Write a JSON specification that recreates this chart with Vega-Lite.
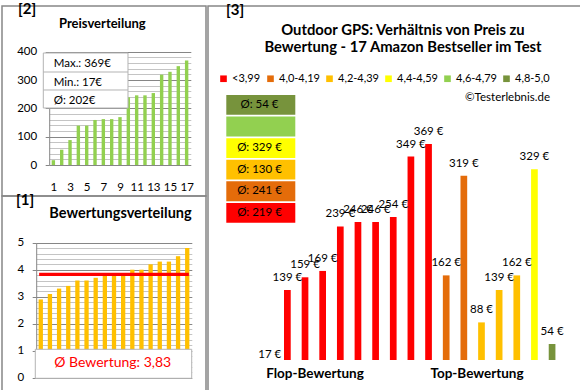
{
  "$schema": "https://vega.github.io/schema/vega-lite/v6.json",
  "padding": {"left": 1, "top": 1, "right": 1, "bottom": 1},
  "background": "white",
  "config": {
    "font": "Lato",
    "view": {"stroke": "#878787", "strokeWidth": 1.5},
    "locale": {"number": {"decimal": ",", "thousands": ".", "grouping": [3], "currency": ["", " €"]}}
  },
  "datasets": {
    "produkte": [
      {"n": 1, "preis": 17, "bewertung": 2.9, "gruppe": "<3,99"},
      {"n": 2, "preis": 139, "bewertung": 3.1, "gruppe": "<3,99"},
      {"n": 3, "preis": 159, "bewertung": 3.3, "gruppe": "<3,99"},
      {"n": 4, "preis": 169, "bewertung": 3.4, "gruppe": "<3,99"},
      {"n": 5, "preis": 239, "bewertung": 3.6, "gruppe": "<3,99"},
      {"n": 6, "preis": 246, "bewertung": 3.6, "gruppe": "<3,99"},
      {"n": 7, "preis": 246, "bewertung": 3.7, "gruppe": "<3,99"},
      {"n": 8, "preis": 254, "bewertung": 3.8, "gruppe": "<3,99"},
      {"n": 9, "preis": 349, "bewertung": 3.8, "gruppe": "<3,99"},
      {"n": 10, "preis": 369, "bewertung": 3.8, "gruppe": "<3,99"},
      {"n": 11, "preis": 162, "bewertung": 4.0, "gruppe": "4,0-4,19"},
      {"n": 12, "preis": 319, "bewertung": 4.0, "gruppe": "4,0-4,19"},
      {"n": 13, "preis": 88, "bewertung": 4.2, "gruppe": "4,2-4,39"},
      {"n": 14, "preis": 139, "bewertung": 4.3, "gruppe": "4,2-4,39"},
      {"n": 15, "preis": 162, "bewertung": 4.3, "gruppe": "4,2-4,39"},
      {"n": 16, "preis": 329, "bewertung": 4.5, "gruppe": "4,4-4,59"},
      {"n": 17, "preis": 54, "bewertung": 4.8, "gruppe": "4,8-5,0"}
    ],
    "preisverteilung": [
      {"n": 1, "preis": 17}, {"n": 2, "preis": 54}, {"n": 3, "preis": 88},
      {"n": 4, "preis": 139}, {"n": 5, "preis": 139}, {"n": 6, "preis": 159},
      {"n": 7, "preis": 162}, {"n": 8, "preis": 162}, {"n": 9, "preis": 169},
      {"n": 10, "preis": 239}, {"n": 11, "preis": 246}, {"n": 12, "preis": 246},
      {"n": 13, "preis": 254}, {"n": 14, "preis": 319}, {"n": 15, "preis": 329},
      {"n": 16, "preis": 349}, {"n": 17, "preis": 369}
    ],
    "mittelwerte": [
      {"gruppe": "4,8-5,0", "text": "Ø: 54 €"},
      {"gruppe": "4,6-4,79", "text": ""},
      {"gruppe": "4,4-4,59", "text": "Ø: 329 €"},
      {"gruppe": "4,2-4,39", "text": "Ø: 130 €"},
      {"gruppe": "4,0-4,19", "text": "Ø: 241 €"},
      {"gruppe": "<3,99", "text": "Ø: 219 €"}
    ]
  },
  "spacing": 0,
  "hconcat": [
    {
      "spacing": 0,
      "bounds": "flush",
      "vconcat": [
        {
          "width": 204,
          "height": 190,
          "title": {"text": "[2]", "anchor": "start", "frame": "group", "dx": 16, "offset": -23, "baseline": "alphabetic", "fontSize": 15, "fontWeight": "bold", "color": "#000000"},
          "resolve": {"axis": {"x": "independent", "y": "independent"}},
          "layer": [
            {
              "data": {"name": "preisverteilung"},
              "mark": {"type": "bar", "orient": "vertical", "width": 3.4, "color": "#92D050"},
              "encoding": {
                "x": {"field": "n", "type": "quantitative",
                  "scale": {"domain": [0.5, 17.5], "range": [47.2, 188.8], "nice": false, "zero": false, "padding": 0},
                  "axis": {"values": [1, 3, 5, 7, 9, 11, 13, 15, 17], "format": "d", "orient": "bottom", "offset": -31, "domain": false, "ticks": false, "tickSize": 0, "grid": false, "labelPadding": 16, "labelFontSize": 11.5, "labelColor": "#000000", "labelFlush": false, "labelOverlap": false, "title": null}},
                "y": {"field": "preis", "type": "quantitative",
                  "scale": {"domain": [0, 400], "range": [159, 45.7], "nice": false, "zero": false},
                  "axis": {"values": [0, 20, 40, 60, 80, 100, 120, 140, 160, 180, 200, 220, 240, 260, 280, 300, 320, 340, 360, 380, 400],
                    "orient": "left", "offset": -47.2, "title": null, "grid": true, "domainColor": "#868686", "tickSize": 4,
                    "tickColor": {"condition": {"test": "datum.value % 100 === 0", "value": "#868686"}, "value": "transparent"},
                    "gridColor": {"condition": {"test": "datum.value % 100 === 0", "value": "#868686"}, "value": "#c4c4c4"},
                    "labelExpr": "datum.value % 100 === 0 ? datum.label : ''",
                    "labelOverlap": false, "labelPadding": 8.5, "labelFontSize": 11.5, "labelColor": "#000000"}}
              }
            },
            {
              "data": {"values": [{}]},
              "mark": {"type": "text", "fontSize": 13, "fontWeight": "bold", "align": "left", "baseline": "alphabetic", "color": "#000000"},
              "encoding": {
                "x": {"datum": 1.676, "type": "quantitative", "scale": {"domain": [0.5, 17.5], "range": [47.2, 188.8], "nice": false, "zero": false, "padding": 0}, "axis": null},
                "y": {"datum": 485, "type": "quantitative", "scale": {"domain": [0, 400], "range": [159, 45.7], "nice": false, "zero": false}, "axis": null},
                "text": {"value": "Preisverteilung"}
              }
            },
            {
              "data": {"values": [{}]},
              "mark": {"type": "rect", "fill": "#ffffff", "stroke": "#b3b3b3", "strokeWidth": 1},
              "encoding": {
                "x": {"datum": -0.208, "type": "quantitative", "scale": {"domain": [0.5, 17.5], "range": [47.2, 188.8], "nice": false, "zero": false, "padding": 0}, "axis": null},
                "x2": {"datum": 9.96},
                "y": {"datum": 395.4, "type": "quantitative", "scale": {"domain": [0, 400], "range": [159, 45.7], "nice": false, "zero": false}, "axis": null},
                "y2": {"datum": 201.2}
              }
            },
            {
              "data": {"values": [{}]},
              "mark": {"type": "rule", "color": "#b3b3b3", "strokeWidth": 1},
              "encoding": {
                "x": {"datum": -0.208, "type": "quantitative", "scale": {"domain": [0.5, 17.5], "range": [47.2, 188.8], "nice": false, "zero": false, "padding": 0}, "axis": null},
                "x2": {"datum": 9.96},
                "y": {"datum": 328.3, "type": "quantitative", "scale": {"domain": [0, 400], "range": [159, 45.7], "nice": false, "zero": false}, "axis": null}
              }
            },
            {
              "data": {"values": [{}]},
              "mark": {"type": "rule", "color": "#b3b3b3", "strokeWidth": 1},
              "encoding": {
                "x": {"datum": -0.208, "type": "quantitative", "scale": {"domain": [0.5, 17.5], "range": [47.2, 188.8], "nice": false, "zero": false, "padding": 0}, "axis": null},
                "x2": {"datum": 9.96},
                "y": {"datum": 264.8, "type": "quantitative", "scale": {"domain": [0, 400], "range": [159, 45.7], "nice": false, "zero": false}, "axis": null}
              }
            },
            {
              "data": {"values": [{}]},
              "mark": {"type": "text", "fontSize": 11.5, "align": "left", "baseline": "alphabetic", "lineHeight": 18.3, "color": "#000000"},
              "encoding": {
                "x": {"datum": 1.04, "type": "quantitative", "scale": {"domain": [0.5, 17.5], "range": [47.2, 188.8], "nice": false, "zero": false, "padding": 0}, "axis": null},
                "y": {"datum": 345, "type": "quantitative", "scale": {"domain": [0, 400], "range": [159, 45.7], "nice": false, "zero": false}, "axis": null},
                "text": {"value": ["Max.: 369€", "Min.: 17€", "Ø: 202€"]}
              }
            }
          ]
        },
        {
          "width": 204,
          "height": 197,
          "title": {"text": "[1]", "anchor": "start", "frame": "group", "dx": 14, "offset": -24, "baseline": "alphabetic", "fontSize": 15, "fontWeight": "bold", "color": "#000000"},
          "resolve": {"axis": {"x": "independent", "y": "independent"}},
          "layer": [
            {
              "data": {"name": "produkte"},
              "mark": {"type": "bar", "orient": "vertical", "width": 4.3, "color": "#FFC000"},
              "encoding": {
                "x": {"field": "n", "type": "quantitative",
                  "scale": {"domain": [0.5, 17.5], "range": [34.2, 189.8], "nice": false, "zero": false, "padding": 0},
                  "axis": null},
                "y": {"field": "bewertung", "type": "quantitative",
                  "scale": {"domain": [0, 5], "range": [181.7, 46.7], "nice": false, "zero": false},
                  "axis": {"values": [0, 0.2, 0.4, 0.6, 0.8, 1, 1.2, 1.4, 1.6, 1.8, 2, 2.2, 2.4, 2.6, 2.8, 3, 3.2, 3.4, 3.6, 3.8, 4, 4.2, 4.4, 4.6, 4.8, 5],
                    "orient": "left", "offset": -34.2, "title": null, "grid": true, "domainColor": "#868686", "tickSize": 4,
                    "tickColor": {"condition": {"test": "abs(datum.value - round(datum.value)) < 0.01", "value": "#868686"}, "value": "transparent"},
                    "gridColor": {"condition": {"test": "abs(datum.value - round(datum.value)) < 0.01", "value": "#868686"}, "value": "#c4c4c4"},
                    "labelExpr": "abs(datum.value - round(datum.value)) < 0.01 ? format(datum.value, 'd') : ''",
                    "labelOverlap": false, "labelPadding": 8.5, "labelFontSize": 11.5, "labelColor": "#000000"}}
              }
            },
            {
              "data": {"values": [{}]},
              "mark": {"type": "rule", "color": "#FF0000", "strokeWidth": 3.3, "strokeCap": "square"},
              "encoding": {
                "x": {"datum": 1, "type": "quantitative", "scale": {"domain": [0.5, 17.5], "range": [34.2, 189.8], "nice": false, "zero": false, "padding": 0}, "axis": null},
                "x2": {"datum": 17},
                "y": {"datum": 3.83, "type": "quantitative", "scale": {"domain": [0, 5], "range": [181.7, 46.7], "nice": false, "zero": false}, "axis": null}
              }
            },
            {
              "data": {"values": [{}]},
              "mark": {"type": "rect", "fill": "#ffffff", "stroke": "#b3b3b3", "strokeWidth": 1},
              "encoding": {
                "x": {"datum": 0.4, "type": "quantitative", "scale": {"domain": [0.5, 17.5], "range": [34.2, 189.8], "nice": false, "zero": false, "padding": 0}, "axis": null},
                "x2": {"datum": 17.49},
                "y": {"datum": -0.022, "type": "quantitative", "scale": {"domain": [0, 5], "range": [181.7, 46.7], "nice": false, "zero": false}, "axis": null},
                "y2": {"datum": 1.052}
              }
            },
            {
              "data": {"values": [{}]},
              "mark": {"type": "text", "fontSize": 14, "align": "center", "baseline": "middle", "color": "#FF0000"},
              "encoding": {
                "x": {"datum": 8.86, "type": "quantitative", "scale": {"domain": [0.5, 17.5], "range": [34.2, 189.8], "nice": false, "zero": false, "padding": 0}, "axis": null},
                "y": {"datum": 0.533, "type": "quantitative", "scale": {"domain": [0, 5], "range": [181.7, 46.7], "nice": false, "zero": false}, "axis": null},
                "text": {"value": "Ø Bewertung: 3,83"}
              }
            },
            {
              "data": {"values": [{}]},
              "mark": {"type": "text", "fontSize": 14.5, "fontWeight": "bold", "align": "left", "baseline": "alphabetic", "color": "#000000"},
              "encoding": {
                "x": {"datum": 1.93, "type": "quantitative", "scale": {"domain": [0.5, 17.5], "range": [34.2, 189.8], "nice": false, "zero": false, "padding": 0}, "axis": null},
                "y": {"datum": 5.904, "type": "quantitative", "scale": {"domain": [0, 5], "range": [181.7, 46.7], "nice": false, "zero": false}, "axis": null},
                "text": {"value": "Bewertungsverteilung"}
              }
            }
          ]
        }
      ]
    },
    {
      "width": 373,
      "height": 387,
      "title": {"text": "[3]", "anchor": "start", "frame": "group", "dx": 18, "offset": -24, "baseline": "alphabetic", "fontSize": 15, "fontWeight": "bold", "color": "#000000"},
      "resolve": {"scale": {"y": "independent"}},
      "layer": [
        {
          "data": {"name": "produkte"},
          "mark": {"type": "bar", "orient": "vertical", "width": 6.7},
          "encoding": {
            "x": {"field": "n", "type": "quantitative", "scale": {"domain": [0.5, 17.5], "range": [52.9, 352.9], "nice": false, "zero": false, "padding": 0}, "axis": null},
            "y": {"field": "preis", "type": "quantitative", "scale": {"domain": [28.8, 400], "range": [354, 118.2], "nice": false, "zero": false, "clamp": true}, "axis": null},
            "y2": {"datum": 28.8},
            "color": {"field": "gruppe", "type": "nominal",
              "scale": {"domain": ["<3,99", "4,0-4,19", "4,2-4,39", "4,4-4,59", "4,6-4,79", "4,8-5,0"], "range": ["#FF0000", "#E46C0A", "#FFC000", "#FFFF00", "#92D050", "#77933C"]},
              "legend": {"orient": "none", "legendX": 216, "legendY": 67, "direction": "horizontal", "columns": 6, "padding": 0,
                "title": "©Testerlebnis.de", "titleOrient": "bottom", "titleAnchor": "end", "titleFontWeight": "normal", "titleFontSize": 11.5, "titleColor": "#000000", "titlePadding": 8,
                "symbolType": "square", "symbolSize": 44, "symbolStrokeWidth": 0, "labelFontSize": 11, "labelColor": "#000000", "labelOffset": 3, "columnPadding": 4}}
          }
        },
        {
          "layer": [
            {
              "data": {"name": "produkte"},
              "mark": {"type": "text", "fontSize": 11.5, "baseline": "alphabetic", "align": "center", "dy": -9, "color": "#000000"},
              "encoding": {
                "x": {"field": "n", "type": "quantitative", "scale": {"domain": [0.5, 17.5], "range": [52.9, 352.9], "nice": false, "zero": false, "padding": 0}, "axis": null},
                "y": {"field": "preis", "type": "quantitative", "scale": {"domain": [28.8, 400], "range": [354, 118.2], "nice": false, "zero": false}, "axis": null},
                "text": {"field": "preis", "type": "quantitative", "format": "$.0f"}
              }
            },
            {
              "data": {"values": [{}]},
              "mark": {"type": "text", "fontSize": 14.8, "fontWeight": "bold", "align": "center", "baseline": "alphabetic", "lineHeight": 17.3, "color": "#000000"},
              "encoding": {
                "x": {"datum": 8.55, "type": "quantitative", "scale": {"domain": [0.5, 17.5], "range": [52.9, 352.9], "nice": false, "zero": false, "padding": 0}, "axis": null},
                "y": {"datum": 540.4, "type": "quantitative", "scale": {"domain": [28.8, 400], "range": [354, 118.2], "nice": false, "zero": false}, "axis": null},
                "text": {"value": ["Outdoor GPS: Verhältnis von Preis zu", "Bewertung - 17 Amazon Bestseller im Test"]}
              }
            },
            {
              "data": {"values": [{}]},
              "mark": {"type": "text", "fontSize": 13.5, "fontWeight": "bold", "align": "center", "baseline": "alphabetic", "color": "#000000"},
              "encoding": {
                "x": {"datum": 3.566, "type": "quantitative", "scale": {"domain": [0.5, 17.5], "range": [52.9, 352.9], "nice": false, "zero": false, "padding": 0}, "axis": null},
                "y": {"datum": -0.3, "type": "quantitative", "scale": {"domain": [28.8, 400], "range": [354, 118.2], "nice": false, "zero": false}, "axis": null},
                "text": {"value": "Flop-Bewertung"}
              }
            },
            {
              "data": {"values": [{}]},
              "mark": {"type": "text", "fontSize": 13.5, "fontWeight": "bold", "align": "center", "baseline": "alphabetic", "color": "#000000"},
              "encoding": {
                "x": {"datum": 12.746, "type": "quantitative", "scale": {"domain": [0.5, 17.5], "range": [52.9, 352.9], "nice": false, "zero": false, "padding": 0}, "axis": null},
                "y": {"datum": -0.3, "type": "quantitative", "scale": {"domain": [28.8, 400], "range": [354, 118.2], "nice": false, "zero": false}, "axis": null},
                "text": {"value": "Top-Bewertung"}
              }
            }
          ]
        },
        {
          "data": {"name": "mittelwerte"},
          "layer": [
            {
              "mark": {"type": "rect"},
              "encoding": {
                "x": {"datum": -1.461, "type": "quantitative", "scale": {"domain": [0.5, 17.5], "range": [52.9, 352.9], "nice": false, "zero": false, "padding": 0}, "axis": null},
                "x2": {"datum": 2.449},
                "y": {"field": "gruppe", "type": "nominal", "sort": null, "scale": {"domain": ["4,8-5,0", "4,6-4,79", "4,4-4,59", "4,2-4,39", "4,0-4,19", "<3,99"], "range": [88.1, 217.6], "paddingInner": 0.08, "paddingOuter": 0.04}, "axis": null},
                "color": {"field": "gruppe", "type": "nominal",
                  "scale": {"domain": ["<3,99", "4,0-4,19", "4,2-4,39", "4,4-4,59", "4,6-4,79", "4,8-5,0"], "range": ["#FF0000", "#E46C0A", "#FFC000", "#FFFF00", "#92D050", "#77933C"]},
                  "legend": null}
              }
            },
            {
              "mark": {"type": "text", "fontSize": 11.5, "align": "center", "baseline": "middle", "color": "#000000"},
              "encoding": {
                "x": {"datum": 0.42, "type": "quantitative", "scale": {"domain": [0.5, 17.5], "range": [52.9, 352.9], "nice": false, "zero": false, "padding": 0}, "axis": null},
                "y": {"field": "gruppe", "type": "nominal", "sort": null, "scale": {"domain": ["4,8-5,0", "4,6-4,79", "4,4-4,59", "4,2-4,39", "4,0-4,19", "<3,99"], "range": [88.1, 217.6], "paddingInner": 0.08, "paddingOuter": 0.04}, "axis": null},
                "text": {"field": "text"}
              }
            }
          ]
        }
      ]
    }
  ]
}
